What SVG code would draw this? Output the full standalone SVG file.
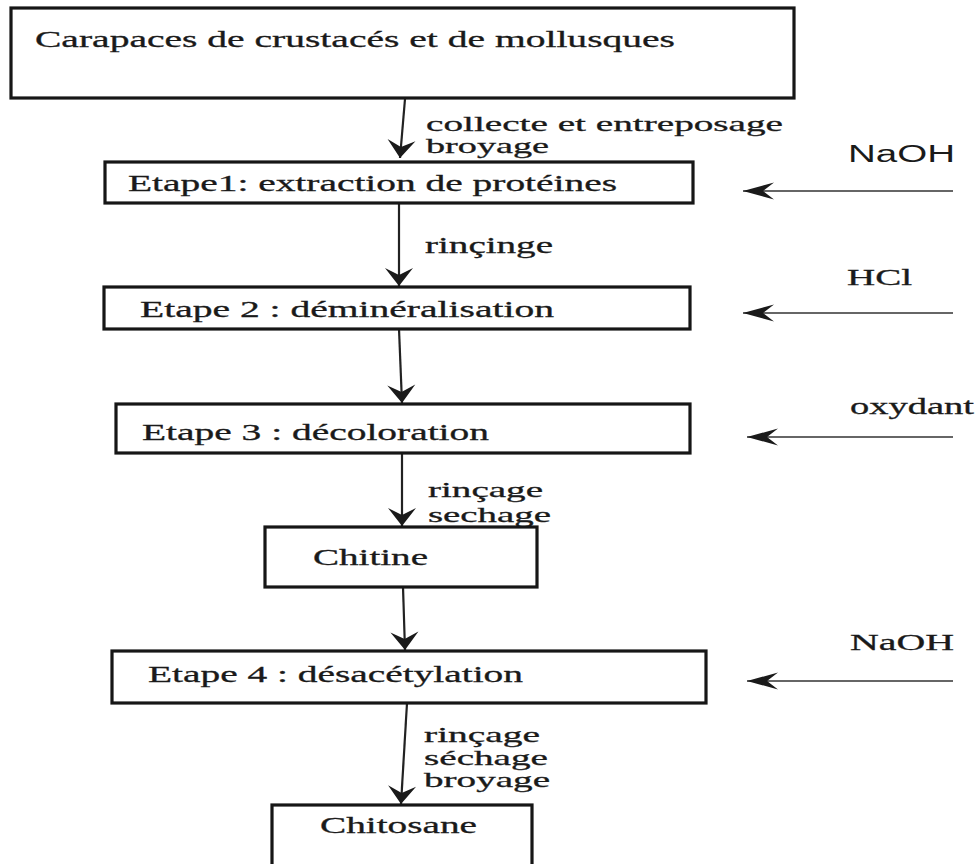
<svg xmlns="http://www.w3.org/2000/svg" width="977" height="864" viewBox="0 0 977 864">
<style>
.box{fill:#fff;stroke:#161616;stroke-width:3.2}
.t{font-family:"Liberation Serif","Times New Roman",serif;font-size:23px;fill:#1a1a1a;stroke:#1a1a1a;stroke-width:0.3}
.l{font-size:21.5px}
.s{font-family:"Liberation Sans",Arial,sans-serif;font-size:23px;fill:#1a1a1a}
.v{stroke:#222;stroke-width:2.2;fill:none;marker-end:url(#av)}
.h{stroke:#333;stroke-width:1.6;fill:none;marker-end:url(#ah)}
</style>
<defs>
<marker id="av" markerUnits="userSpaceOnUse" orient="auto" markerWidth="40" markerHeight="40" viewBox="-20 -20 40 40" refX="0" refY="0" overflow="visible"><path d="M0,0 L-18,-14 L-11,0 L-18,14 Z" fill="#1a1a1a"/></marker>
<marker id="ah" markerUnits="userSpaceOnUse" orient="auto" markerWidth="40" markerHeight="40" viewBox="-20 -20 40 40" refX="0" refY="0" overflow="visible"><path d="M0,0 L-31,-8.5 L-20,0 L-31,8.5 Z" fill="#1a1a1a"/></marker>
</defs>
<rect width="977" height="864" fill="#fff"/>
<g id="connectors">
<line class="v" x1="405" y1="99" x2="400" y2="158"/>
<line class="v" x1="399" y1="203" x2="399" y2="286"/>
<line class="v" x1="399" y1="329" x2="402" y2="403"/>
<line class="v" x1="402" y1="453" x2="402" y2="526"/>
<line class="v" x1="403" y1="587" x2="405" y2="650"/>
<line class="v" x1="407" y1="703" x2="401" y2="804"/>
<line class="h" x1="953" y1="191" x2="743" y2="191"/>
<line class="h" x1="953" y1="313" x2="743" y2="313"/>
<line class="h" x1="953" y1="437" x2="747" y2="437"/>
<line class="h" x1="953" y1="681" x2="747" y2="681"/>
<text class="t l" x="426" y="131" textLength="357" lengthAdjust="spacingAndGlyphs">collecte et entreposage</text>
<text class="t l" x="426" y="153" textLength="123" lengthAdjust="spacingAndGlyphs">broyage</text>
<text class="t" x="425" y="253" textLength="128" lengthAdjust="spacingAndGlyphs">rinçinge</text>
<text class="t l" x="428" y="497" textLength="115" lengthAdjust="spacingAndGlyphs">rinçage</text>
<text class="t l" x="428" y="522" textLength="123" lengthAdjust="spacingAndGlyphs">sechage</text>
<text class="t l" x="424" y="742" textLength="116" lengthAdjust="spacingAndGlyphs">rinçage</text>
<text class="t l" x="424" y="765" textLength="124" lengthAdjust="spacingAndGlyphs">séchage</text>
<text class="t l" x="424" y="787" textLength="126" lengthAdjust="spacingAndGlyphs">broyage</text>
<text class="s" x="848" y="162" textLength="107" lengthAdjust="spacingAndGlyphs">NaOH</text>
<text class="t" x="847" y="285" textLength="65" lengthAdjust="spacingAndGlyphs">HCl</text>
<text class="t" x="850" y="414" textLength="124" lengthAdjust="spacingAndGlyphs">oxydant</text>
<text class="t" x="850" y="650" textLength="104" lengthAdjust="spacingAndGlyphs">NaOH</text>
</g>
<g id="n-carapaces">
<rect class="box" x="11" y="8" width="783" height="90"/>
<text class="t" x="35" y="47" font-size="24" textLength="640" lengthAdjust="spacingAndGlyphs">Carapaces de crustacés et de mollusques</text>
</g>
<g id="n-etape1">
<rect class="box" x="105" y="162" width="588" height="41"/>
<text class="t" x="128" y="191" textLength="489" lengthAdjust="spacingAndGlyphs">Etape1: extraction de protéines</text>
</g>
<g id="n-etape2">
<rect class="box" x="104" y="287" width="586" height="42"/>
<text class="t" x="140" y="317" textLength="414" lengthAdjust="spacingAndGlyphs">Etape 2 : déminéralisation</text>
</g>
<g id="n-etape3">
<rect class="box" x="116" y="404" width="574" height="49"/>
<text class="t" x="142" y="440" textLength="347" lengthAdjust="spacingAndGlyphs">Etape 3 : décoloration</text>
</g>
<g id="n-chitine">
<rect class="box" x="265" y="527" width="272" height="60"/>
<text class="t" x="313" y="565" textLength="115" lengthAdjust="spacingAndGlyphs">Chitine</text>
</g>
<g id="n-etape4">
<rect class="box" x="112" y="651" width="594" height="52"/>
<text class="t" x="148" y="682" textLength="375" lengthAdjust="spacingAndGlyphs">Etape 4 : désacétylation</text>
</g>
<g id="n-chitosane">
<rect class="box" x="272" y="805" width="260" height="80"/>
<text class="t" x="320" y="833" textLength="157" lengthAdjust="spacingAndGlyphs">Chitosane</text>
</g>
</svg>
